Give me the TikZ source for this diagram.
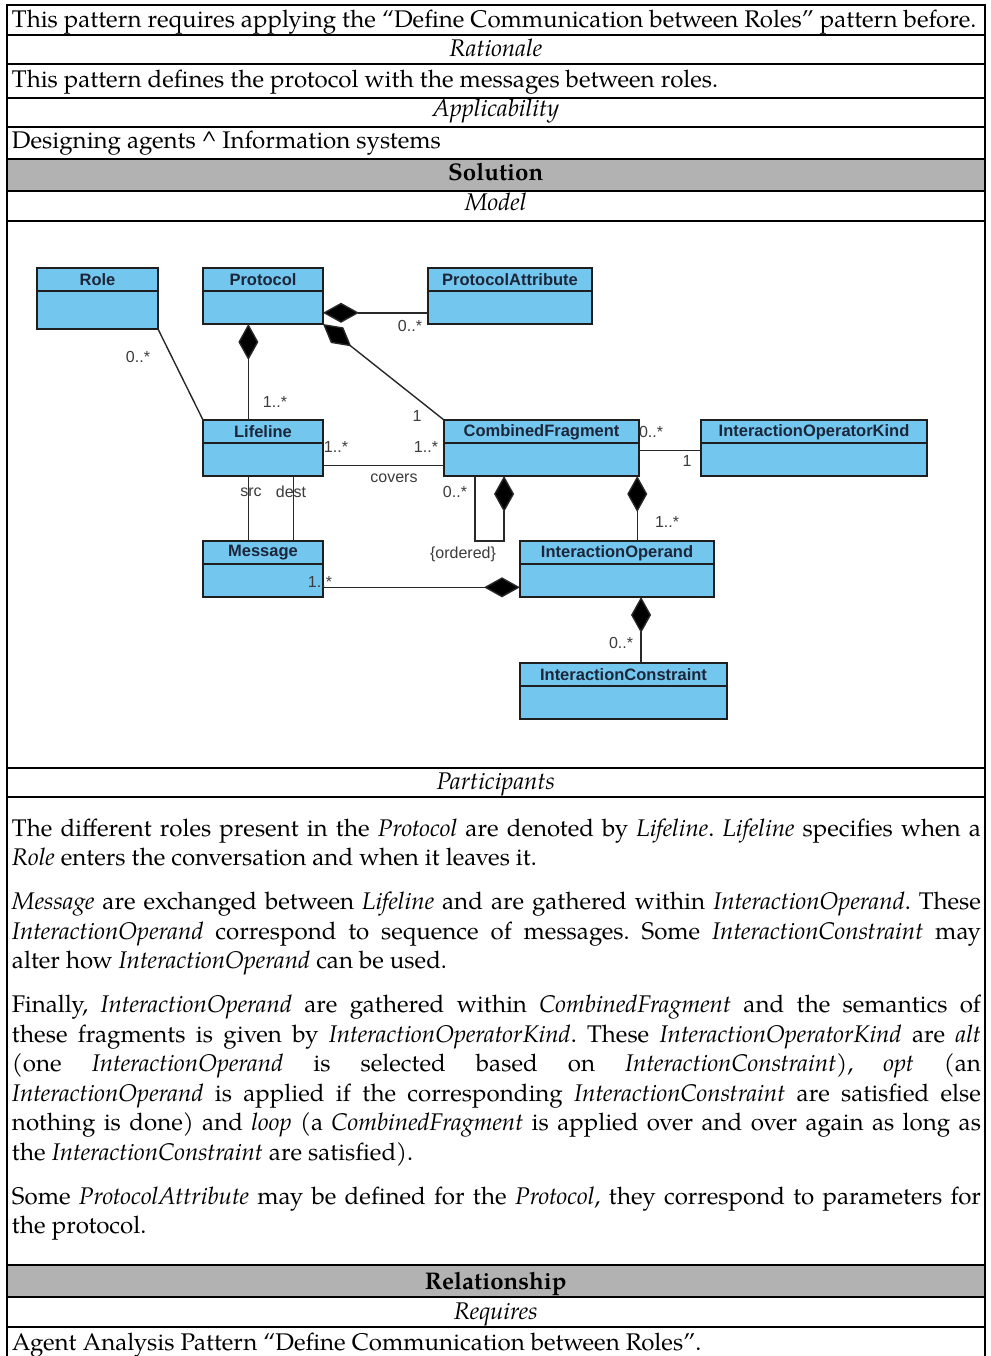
\documentclass[tikz,border=0pt]{standalone}
\usepackage{fontspec}
\setmainfont{TeX Gyre Pagella}
\newfontfamily\diagfont{Liberation Sans}
\usetikzlibrary{calc,arrows.meta}
\frenchspacing

\definecolor{clsfill}{RGB}{115,199,238}
\definecolor{clsline}{RGB}{30,30,30}
\definecolor{clstext}{RGB}{28,38,58}
\definecolor{labeltext}{RGB}{60,60,60}
\definecolor{connline}{RGB}{40,40,40}
\definecolor{headgray}{RGB}{178,178,178}

% UML class box: name, x, y (top left), width, height, title
\newcommand{\umlclass}[6]{%
  \node[cls, minimum width=#4, minimum height=#5] (#1) at (#2,#3) {};
  \draw[clsline, line width=1.4pt] ($(#1.north west)+(0,23)$) -- ($(#1.north east)+(0,23)$);
  \node[clsname] (#1-name) at ($(#1.north)+(0,12)$) {#6};
}

\tikzset{
  rule/.style={draw=black, line width=2pt},
  body/.style={inner sep=0, outer sep=0, font=\frenchspacing\fontsize{24.1}{28}\selectfont, text=black},
  cls/.style={rectangle, draw=clsline, fill=clsfill, line width=1.4pt, inner sep=0, outer sep=0, anchor=north west},
  clsname/.style={inner sep=0, text=clstext, font=\diagfont\bfseries\fontsize{16.5}{18}\selectfont},
  mult/.style={inner sep=0, text=labeltext, font=\diagfont\fontsize{16}{18}\selectfont},
  assoc/.style={draw=connline, line width=1.4pt},
  comp/.style={assoc, -{Diamond[length=36pt, width=20pt, fill=black]}},
}

\begin{document}
\begin{tikzpicture}[x=1pt, y=-1pt]
\useasboundingbox (0,0) rectangle (990,1356);
\fill[white] (0,0) rectangle (990,1356);

% ---------- table frame ----------
\fill[headgray] (6.5,159.3) rectangle (985,190.7);
\fill[headgray] (6.5,1265) rectangle (985,1297);
\foreach \yy in {4.7,35,64,97.7,126.7,159.3,190.7,220.7,768,797,1265,1297,1327}
  \draw[rule] (6.5,\yy) -- (985,\yy);
\draw[rule] (6.5,3.7) -- (6.5,1357);
\draw[rule] (985,3.7) -- (985,1357);

% ---------- table texts ----------
\node[body, anchor=base west] (intro) at (12,28) {This pattern requires applying the “Define Communication between Roles” pattern before.};
\node[body, anchor=base] (rationale) at (495.75,57) {\emph{Rationale}};
\node[body, anchor=base west] (rationaletxt) at (12,87.5) {This pattern defines the protocol with the messages between roles.};
\node[body, anchor=base] (applic) at (495.75,117) {\emph{Applicability}};
\node[body, anchor=base west] (applictxt) at (12,148.5) {Designing agents \textasciicircum{} Information systems};
\node[body, anchor=base] (solution) at (495.75,180.5) {\textbf{Solution}};
\node[body, anchor=base] (model) at (495.75,211) {\emph{Model}};
\node[body, anchor=base] (participants) at (495.75,789) {\emph{Participants}};

\node[body, anchor=base west] (p1a) at (12,836) {\makebox[969pt][s]{The different roles present in the \emph{Protocol} are denoted by \emph{Lifeline}. \emph{Lifeline} specifies when a}};
\node[body, anchor=base west] (p1b) at (12,865.5) {\emph{Role} enters the conversation and when it leaves it.};

\node[body, anchor=base west] (p2a) at (12,909.5) {\makebox[969pt][s]{\emph{Message} are exchanged between \emph{Lifeline} and are gathered within \emph{InteractionOperand}. These}};
\node[body, anchor=base west] (p2b) at (12,939) {\makebox[969pt][s]{\emph{InteractionOperand} correspond to sequence of messages. Some \emph{InteractionConstraint} may}};
\node[body, anchor=base west] (p2c) at (12,968.5) {alter how \emph{InteractionOperand} can be used.};

\node[body, anchor=base west] (p3a) at (12,1012.5) {\makebox[969pt][s]{Finally, \emph{InteractionOperand} are gathered within \emph{CombinedFragment} and the semantics of}};
\node[body, anchor=base west] (p3b) at (12,1042) {\makebox[969pt][s]{these fragments is given by \emph{InteractionOperatorKind}. These \emph{InteractionOperatorKind} are \emph{alt}}};
\node[body, anchor=base west] (p3c) at (12,1071.5) {\makebox[969pt][s]{(one \emph{InteractionOperand} is selected based on \emph{InteractionConstraint}), \emph{opt} (an}};
\node[body, anchor=base west] (p3d) at (12,1101) {\makebox[969pt][s]{\emph{InteractionOperand} is applied if the corresponding \emph{InteractionConstraint} are satisfied else}};
\node[body, anchor=base west] (p3e) at (12,1130.5) {\makebox[969pt][s]{nothing is done) and \emph{loop} (a \emph{CombinedFragment} is applied over and over again as long as}};
\node[body, anchor=base west] (p3f) at (12,1160) {the \emph{InteractionConstraint} are satisfied).};

\node[body, anchor=base west] (p4a) at (12,1204) {\makebox[969pt][s]{Some \emph{ProtocolAttribute} may be defined for the \emph{Protocol}, they correspond to parameters for}};
\node[body, anchor=base west] (p4b) at (12,1233.5) {the protocol.};

\node[body, anchor=base] (relationship) at (495.75,1289) {\textbf{Relationship}};
\node[body, anchor=base] (requires) at (495.75,1319) {\emph{Requires}};
\node[body, anchor=base west] (reqtxt) at (12,1350) {Agent Analysis Pattern “Define Communication between Roles”.};

% ---------- class diagram ----------
\umlclass{role}{37}{268}{121}{61}{Role}
\umlclass{protocol}{203}{268}{120}{56}{Protocol}
\umlclass{pattr}{428}{268}{164}{56}{ProtocolAttribute}
\umlclass{lifeline}{203}{420}{120}{56}{Lifeline}
\umlclass{cf}{444}{420}{195}{56}{CombinedFragment}
\umlclass{iok}{701}{420}{226}{56}{InteractionOperatorKind}
\umlclass{message}{203}{541}{120}{56}{Message}
\umlclass{io}{520}{541}{194}{56}{InteractionOperand}
\umlclass{ic}{520}{663}{207}{56}{InteractionConstraint}

% Role -- Lifeline
\draw[assoc] (role.south east) -- (lifeline.north west);
\node[mult] (m-role) at (138,357) {0..*};

% Protocol <>-- ProtocolAttribute
\coordinate (pp) at ($(protocol.north east)!0.8!(protocol.south east)$);
\draw[comp] (pattr.west |- pp) -- (pp);
\node[mult] (m-pattr) at (410,326) {0..*};

% Protocol <>-- Lifeline
\coordinate (pl) at ($(protocol.south west)!0.378!(protocol.south east)$);
\draw[comp] (lifeline.north -| pl) -- (pl);
\node[mult] (m-pl) at (275,402) {1..*};

% Protocol <>-- CombinedFragment
\draw[comp] (cf.north west) -- (protocol.south east);
\node[mult] (m-pcf) at (417,416) {1};

% Lifeline -- CombinedFragment (covers)
\coordinate (lc) at ($(lifeline.north east)!0.816!(lifeline.south east)$);
\draw[assoc] (lc) -- (cf.west |- lc);
\node[mult] (m-lc1) at (336,447) {1..*};
\node[mult] (m-lc2) at (426,447) {1..*};
\node[mult] (m-covers) at (394,478) {covers};

% Lifeline -- Message (src, dest)
\coordinate (ls) at ($(lifeline.south west)!0.378!(lifeline.south east)$);
\coordinate (ld) at ($(lifeline.south west)!0.753!(lifeline.south east)$);
\draw[assoc] (ls) -- (message.north -| ls);
\draw[assoc] (ld) -- (message.north -| ld);
\node[mult] (m-src) at (251,492) {src};
\node[mult] (m-dest) at (291,492) {dest};

% CombinedFragment self composition {ordered}
\coordinate (cfa) at ($(cf.south west)!0.159!(cf.south east)$);
\coordinate (cfb) at ($(cf.south west)!0.308!(cf.south east)$);
\draw[comp] (cfa) -- (cfa |- io.north) -- (cfb |- io.north) -- (cfb);
\node[mult] (m-cfself) at (455,492) {0..*};
\node[mult] (m-ordered) at (463,554) {\{ordered\}};

% CombinedFragment -- InteractionOperatorKind
\coordinate (ck) at ($(cf.north east)!0.548!(cf.south east)$);
\draw[assoc] (ck) -- (iok.west |- ck);
\node[mult] (m-ck1) at (651,432) {0..*};
\node[mult] (m-ck2) at (687,461) {1};

% CombinedFragment <>-- InteractionOperand
\coordinate (ci) at ($(cf.south west)!0.991!(cf.south east)$);
\draw[comp] (io.north -| ci) -- (ci);
\node[mult] (m-ci) at (667,522) {1..*};

% Message --<> InteractionOperand
\coordinate (mi) at ($(message.north east)!0.827!(message.south east)$);
\draw[comp] (mi) -- (io.west |- mi);
\node[mult] (m-mi) at (320,582) {1..*};

% InteractionOperand <>-- InteractionConstraint
\coordinate (ii) at ($(io.south west)!0.624!(io.south east)$);
\draw[comp] (ic.north -| ii) -- (ii);
\node[mult] (m-ii) at (621,643) {0..*};

\end{tikzpicture}
\end{document}
